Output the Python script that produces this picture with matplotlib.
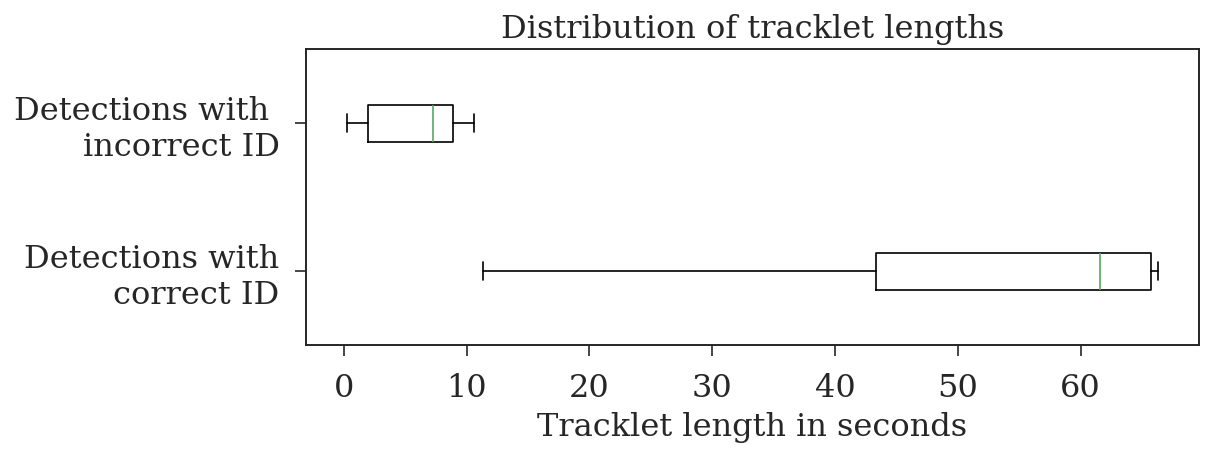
import matplotlib
matplotlib.use("Agg")
import matplotlib.pyplot as plt
import seaborn as sns

# box statistics (seconds); first entry is drawn at the bottom
labels = ["Detections with\ncorrect ID", "Detections with \nincorrect ID"]
whislo = [11.3, 0.22]
q1 = [43.3, 1.93]
med = [61.6, 7.27]
q3 = [65.7, 8.87]
whishi = [66.3, 10.58]

sns.set_style("ticks")
plt.rcParams['font.family'] = ['DejaVu Serif']

stats = []
for i in range(len(labels)):
    stats.append({'label': labels[i], 'whislo': whislo[i], 'q1': q1[i],
                  'med': med[i], 'q3': q3[i], 'whishi': whishi[i], 'fliers': []})

fig = plt.figure(figsize=(12.18, 4.55), dpi=100)
ax = fig.add_axes([306 / 1218, 1 - 345 / 455, (1198.5 - 306) / 1218, (345 - 49) / 455])

black = dict(color='black', linewidth=1.2)
ax.bxp(stats, vert=False, widths=0.25, showfliers=False,
       boxprops=black, whiskerprops=black, capprops=black,
       medianprops=dict(color='#55A868', linewidth=1.2))

fs = 23
ax.set_title("Distribution of tracklet lengths", fontsize=fs, color='.15', pad=8)
ax.set_xlabel("Tracklet length in seconds", fontsize=fs, color='.15', labelpad=6)
ax.tick_params(labelsize=fs, colors='.15', length=8, width=1.2)
ax.tick_params(axis='x', pad=12)
ax.tick_params(axis='y', pad=11)
for t in ax.get_yticklabels():
    t.set_linespacing(1.22)
ax.set_xticks([0, 10, 20, 30, 40, 50, 60])
for s in ax.spines.values():
    s.set_linewidth(1.4)
    s.set_color('.15')

fig.savefig('out.png', dpi=100)
